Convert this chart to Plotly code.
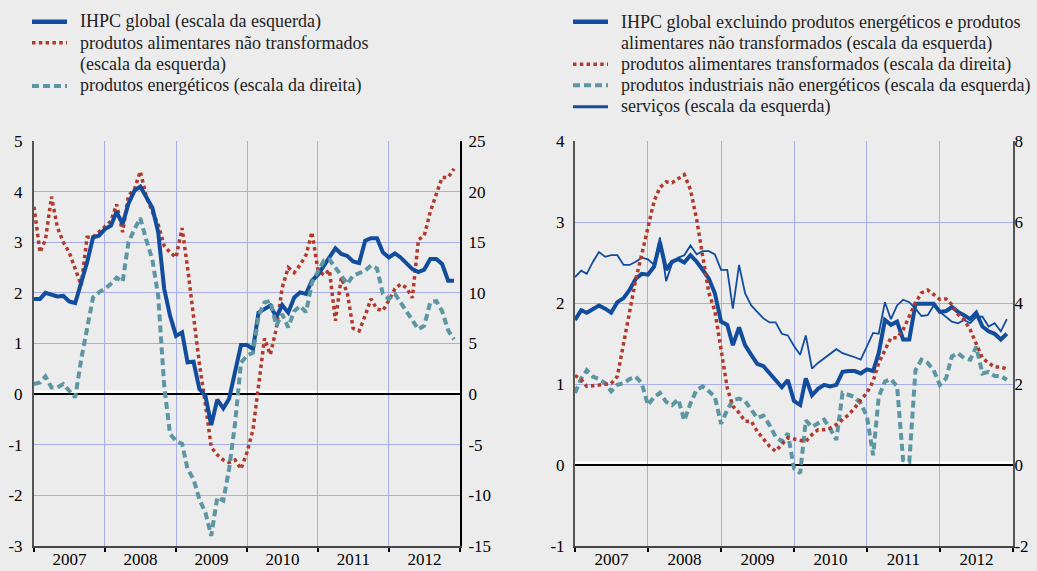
import pandas as pd
import plotly.graph_objects as go

months = pd.date_range("2007-01-01", periods=72, freq="MS")

# Left panel
hicp_total = [1.88, 1.88, 2.0, 1.96, 1.93, 1.94, 1.83, 1.8, 2.2, 2.6, 3.1, 3.13,
              3.26, 3.33, 3.6, 3.36, 3.76, 4.02, 4.1, 3.89, 3.68, 3.2, 2.08, 1.55,
              1.15, 1.22, 0.63, 0.64, 0.1, -0.03, -0.61, -0.11, -0.28, -0.09, 0.49, 0.97,
              0.97, 0.89, 1.61, 1.68, 1.75, 1.52, 1.76, 1.61, 1.91, 2.01, 1.98, 2.24,
              2.36, 2.54, 2.70, 2.88, 2.77, 2.73, 2.62, 2.59, 3.03, 3.08, 3.08, 2.8,
              2.7, 2.78, 2.70, 2.58, 2.47, 2.41, 2.46, 2.67, 2.67, 2.57, 2.24, 2.24]
unprocessed_food = [3.7, 2.8, 3.05, 3.9, 3.3, 3.0, 2.8, 2.45, 2.15, 3.1, 3.1, 3.2,
                    3.3, 3.42, 3.75, 3.2, 3.92, 4.05, 4.4, 3.9, 3.6, 3.35, 2.93, 2.8,
                    2.7, 3.28, 2.5, 1.55, 0.6, -0.2, -1.05, -1.2, -1.3, -1.35, -1.3, -1.48,
                    -1.15, -0.7, 0.2, 1.1, 0.78, 1.3, 2.1, 2.5, 2.4, 2.55, 2.75, 3.2,
                    2.45, 2.35, 2.45, 1.45, 2.3, 2.0, 1.3, 1.25, 1.55, 1.88, 1.68, 1.65,
                    1.85, 2.08, 2.17, 2.1, 1.9, 3.05, 3.13, 3.6, 3.95, 4.28, 4.28, 4.45]
energy = [1.0, 1.15, 1.75, 0.66, 0.66, 1.0, 0.33, -0.33, 3.46, 6.4, 9.55, 10.05,
          10.4, 10.9, 11.5, 11.1, 15.0, 16.3, 17.4, 15.2, 13.3, 9.7, 0.8, -3.95,
          -4.6, -4.9, -7.4, -8.4, -10.4, -11.7, -14.0, -10.2, -10.5, -7.4, -2.8, 3.1,
          3.8, 4.1, 7.7, 9.06, 9.2, 6.75, 7.9, 6.6, 8.2, 8.7, 8.1, 11.0,
          12.2, 13.2, 13.3, 12.5, 11.7, 10.9, 11.7, 12.0, 12.2, 12.7, 12.4, 9.9,
          9.4, 9.9, 9.06, 8.2, 7.4, 6.4, 6.75, 9.06, 9.2, 8.2, 6.3, 5.4]

# Right panel
hicp_core = [1.79, 1.91, 1.88, 1.92, 1.97, 1.93, 1.88, 2.01, 2.06, 2.16, 2.30, 2.36,
             2.35, 2.45, 2.75, 2.41, 2.51, 2.54, 2.50, 2.59, 2.51, 2.41, 2.30, 2.12,
             1.77, 1.73, 1.48, 1.70, 1.48, 1.36, 1.25, 1.22, 1.13, 1.05, 0.96, 1.05,
             0.79, 0.74, 1.07, 0.86, 0.94, 0.99, 0.97, 0.99, 1.15, 1.16, 1.16, 1.13,
             1.18, 1.16, 1.38, 1.79, 1.73, 1.77, 1.55, 1.55, 1.99, 1.99, 1.99, 1.99,
             1.89, 1.90, 1.95, 1.89, 1.85, 1.80, 1.88, 1.71, 1.65, 1.62, 1.55, 1.62]
processed_food = [2.21, 2.11, 1.94, 1.96, 1.96, 1.99, 2.01, 2.19, 3.01, 3.72, 4.58, 5.20,
                  5.90, 6.52, 6.85, 6.99, 6.97, 7.07, 7.17, 6.80, 6.06, 5.16, 4.25, 3.80,
                  2.85, 1.90, 1.45, 1.29, 1.08, 1.08, 0.83, 0.63, 0.46, 0.34, 0.50, 0.67,
                  0.64, 0.61, 0.58, 0.75, 0.87, 0.87, 0.91, 1.00, 1.12, 1.24, 1.41, 1.61,
                  1.78, 2.07, 2.52, 2.85, 3.14, 3.14, 3.34, 3.67, 4.00, 4.25, 4.32, 4.21,
                  4.09, 4.10, 3.96, 3.72, 3.59, 3.34, 2.97, 2.64, 2.52, 2.42, 2.42, 2.37]
industrial_goods = [0.89, 1.07, 1.17, 1.09, 1.06, 1.01, 0.91, 0.99, 1.01, 1.06, 1.09, 1.01,
                    0.74, 0.84, 0.89, 0.78, 0.74, 0.81, 0.55, 0.76, 0.93, 0.97, 0.91, 0.84,
                    0.51, 0.68, 0.80, 0.82, 0.79, 0.68, 0.58, 0.61, 0.49, 0.35, 0.29, 0.39,
                    -0.04, -0.10, 0.55, 0.47, 0.51, 0.56, 0.45, 0.31, 0.89, 0.86, 0.84, 0.76,
                    0.60, 0.12, 0.84, 1.03, 1.06, 0.97, 0.06, 0.04, 1.17, 1.30, 1.26, 1.17,
                    0.99, 1.07, 1.34, 1.38, 1.32, 1.30, 1.46, 1.13, 1.15, 1.10, 1.10, 1.05]
services = [2.32, 2.40, 2.36, 2.51, 2.63, 2.57, 2.59, 2.59, 2.47, 2.47, 2.51, 2.56,
            2.54, 2.47, 2.81, 2.27, 2.49, 2.56, 2.59, 2.71, 2.60, 2.64, 2.64, 2.60,
            2.41, 2.41, 1.93, 2.47, 2.12, 1.97, 1.89, 1.81, 1.76, 1.76, 1.62, 1.60,
            1.47, 1.36, 1.60, 1.19, 1.26, 1.32, 1.37, 1.43, 1.38, 1.36, 1.33, 1.30,
            1.47, 1.63, 1.62, 2.01, 1.80, 1.97, 2.04, 2.01, 1.93, 1.84, 1.85, 1.97,
            1.89, 1.83, 1.77, 1.75, 1.79, 1.75, 1.83, 1.83, 1.71, 1.75, 1.65, 1.80]

# Tick labels
y_left_vals = [-3, -2, -1, 0, 1, 2, 3, 4, 5]
y_left_text = ["-3", "-2", "-1", "0", "1", "2", "3", "4", "5"]
y_right_vals = [-15, -10, -5, 0, 5, 10, 15, 20, 25]
y_right_text = ["-15", "-10", "-5", "0", "5", "10", "15", "20", "25"]
y3_vals = [-1, 0, 1, 2, 3, 4]
y3_text = ["-1", "0", "1", "2", "3", "4"]
y4_vals = [-2, 0, 2, 4, 6, 8]
y4_text = ["-2", "0", "2", "4", "6", "8"]

# Legend labels (rows of text)
left_names = ["IHPC global (escala da esquerda)",
              "produtos alimentares não transformados",
              "(escala da esquerda)",
              "produtos energéticos (escala da direita)"]
right_names = ["IHPC global excluindo produtos energéticos e produtos",
               "alimentares não transformados (escala da esquerda)",
               "produtos alimentares transformados (escala da direita)",
               "produtos industriais não energéticos (escala da esquerda)",
               "serviços (escala da esquerda)"]

BLUE = "#124c9c"
RED = "#b23a2c"
TEAL = "#5b96a2"
GRID = "#a7aee6"
BG = "#ececec"
FONT = "Liberation Serif, Times New Roman, Times, DejaVu Serif, serif"

DOT = "3.5px,3.3px"
DASH = "7px,4px"

fig = go.Figure()

# Left panel traces
fig.add_trace(go.Scatter(x=months, y=energy, xaxis="x", yaxis="y2", mode="lines",
                         name=left_names[3], line=dict(color=TEAL, width=4, dash=DASH)))
fig.add_trace(go.Scatter(x=months, y=unprocessed_food, xaxis="x", yaxis="y", mode="lines",
                         name=left_names[1], line=dict(color=RED, width=3.5, dash=DOT)))
fig.add_trace(go.Scatter(x=months, y=hicp_total, xaxis="x", yaxis="y", mode="lines",
                         name=left_names[0], line=dict(color=BLUE, width=4)))

# Right panel traces
fig.add_trace(go.Scatter(x=months, y=industrial_goods, xaxis="x2", yaxis="y3", mode="lines",
                         name=right_names[3], line=dict(color=TEAL, width=4, dash=DASH)))
fig.add_trace(go.Scatter(x=months, y=services, xaxis="x2", yaxis="y3", mode="lines",
                         name=right_names[4], line=dict(color=BLUE, width=1.8)))
fig.add_trace(go.Scatter(x=months, y=hicp_core, xaxis="x2", yaxis="y3", mode="lines",
                         name=right_names[0], line=dict(color=BLUE, width=4)))
fig.add_trace(go.Scatter(x=months, y=processed_food, xaxis="x2", yaxis="y4", mode="lines",
                         name=right_names[2], line=dict(color=RED, width=3.5, dash=DOT)))

W, H = 1037, 571
ytop = 1 - 141 / H
ybot = 1 - 546 / H
TF = dict(family=FONT, size=17, color="black")

xcommon = dict(
    type="date", range=["2007-01-01", "2013-01-01"], dtick="M12", tick0="2007-01-01",
    ticklabelmode="period", tickformat="%Y", ticks="outside", ticklen=4, tickwidth=1.5,
    tickcolor="black", showgrid=True, gridcolor=GRID, gridwidth=1,
    showline=True, linecolor="#444444", linewidth=1.5, ticklabelstandoff=-7,
    ticklabeloverflow="allow", tickfont=dict(family=FONT, size=17, color="black"),
    fixedrange=True, automargin=False,
)
ycommon = dict(
    showgrid=True, gridcolor=GRID, gridwidth=1, ticks="", zeroline=True,
    zerolinecolor="black", zerolinewidth=1.5, showline=True, linewidth=2,
    tickfont=TF, ticklabeloverflow="allow", tickmode="array", automargin=False,
)
y2common = dict(
    side="right", showgrid=False, zeroline=False, showline=True,
    linewidth=2, ticks="", tickfont=TF, ticklabeloverflow="allow", tickmode="array",
    automargin=False,
)

fig.update_layout(
    width=W, height=H,
    margin=dict(l=0, r=0, t=0, b=0, autoexpand=False),
    paper_bgcolor=BG, plot_bgcolor=BG,
    font=dict(family=FONT, size=17, color="black"),
    showlegend=False,
    xaxis=dict(domain=[34 / W, 460 / W], anchor="y", **xcommon),
    xaxis2=dict(domain=[575 / W, 1013 / W], anchor="y3", **xcommon),
    yaxis=dict(domain=[ybot, ytop], range=[-3, 5], tickvals=y_left_vals, ticktext=y_left_text,
               anchor="x", linecolor="#555555", ticklabelstandoff=6, **ycommon),
    yaxis2=dict(range=[-15, 25], tickvals=y_right_vals, ticktext=y_right_text,
                overlaying="y", anchor="x", linecolor="black", ticklabelstandoff=3,
                **y2common),
    yaxis3=dict(domain=[ybot, ytop], range=[-1, 4], tickvals=y3_vals, ticktext=y3_text,
                anchor="x2", linecolor="#555555", ticklabelstandoff=5, **ycommon),
    yaxis4=dict(range=[-2, 8], tickvals=y4_vals, ticktext=y4_text,
                overlaying="y3", anchor="x2", linecolor="#555555", ticklabelstandoff=-4,
                **y2common),
)

# White strip just above each zero line
for xr, yr in (("x", "y"), ("x2", "y3")):
    fig.add_shape(type="rect", xref=f"{xr} domain", yref=yr, ysizemode="pixel", yanchor=0,
                  x0=0, x1=1, y0=1, y1=3.5, fillcolor="white", line=dict(width=0),
                  layer="below")

# Manual legends (keys as paper-positioned line shapes, labels as text)
def py(px):
    return 1 - px / H

LFONT = dict(family=FONT, size=18, color="#222222")
left_rows = [21.7, 42.7, 64, 86]
for txt, yy in zip(left_names, left_rows):
    fig.add_annotation(x=78 / W, y=py(yy), xref="paper", yref="paper", text=txt,
                       showarrow=False, xanchor="left", yanchor="middle", font=LFONT)
right_rows = [21.7, 43.3, 64.3, 85.3, 106.7]
for txt, yy in zip(right_names, right_rows):
    fig.add_annotation(x=619 / W, y=py(yy), xref="paper", yref="paper", text=txt,
                       showarrow=False, xanchor="left", yanchor="middle", font=LFONT)

keys = [
    (32, 67, 21.7, BLUE, 4.5, "solid"),
    (32, 67, 42.7, RED, 3.5, DOT),
    (32, 67, 86, TEAL, 4, DASH),
    (573, 608, 21.7, BLUE, 4.5, "solid"),
    (573, 608, 64.3, RED, 3.5, DOT),
    (573, 608, 85.3, TEAL, 4, DASH),
    (573, 608, 106.7, BLUE, 3, "solid"),
]
for x0, x1, yy, col, w, d in keys:
    fig.add_shape(type="line", xref="paper", yref="paper", x0=x0 / W, x1=x1 / W,
                  y0=py(yy), y1=py(yy), line=dict(color=col, width=w, dash=d))

fig.write_html("out.html", config={"displayModeBar": False},
               post_script="document.body.style.margin='0';document.body.style.overflow='hidden';")
